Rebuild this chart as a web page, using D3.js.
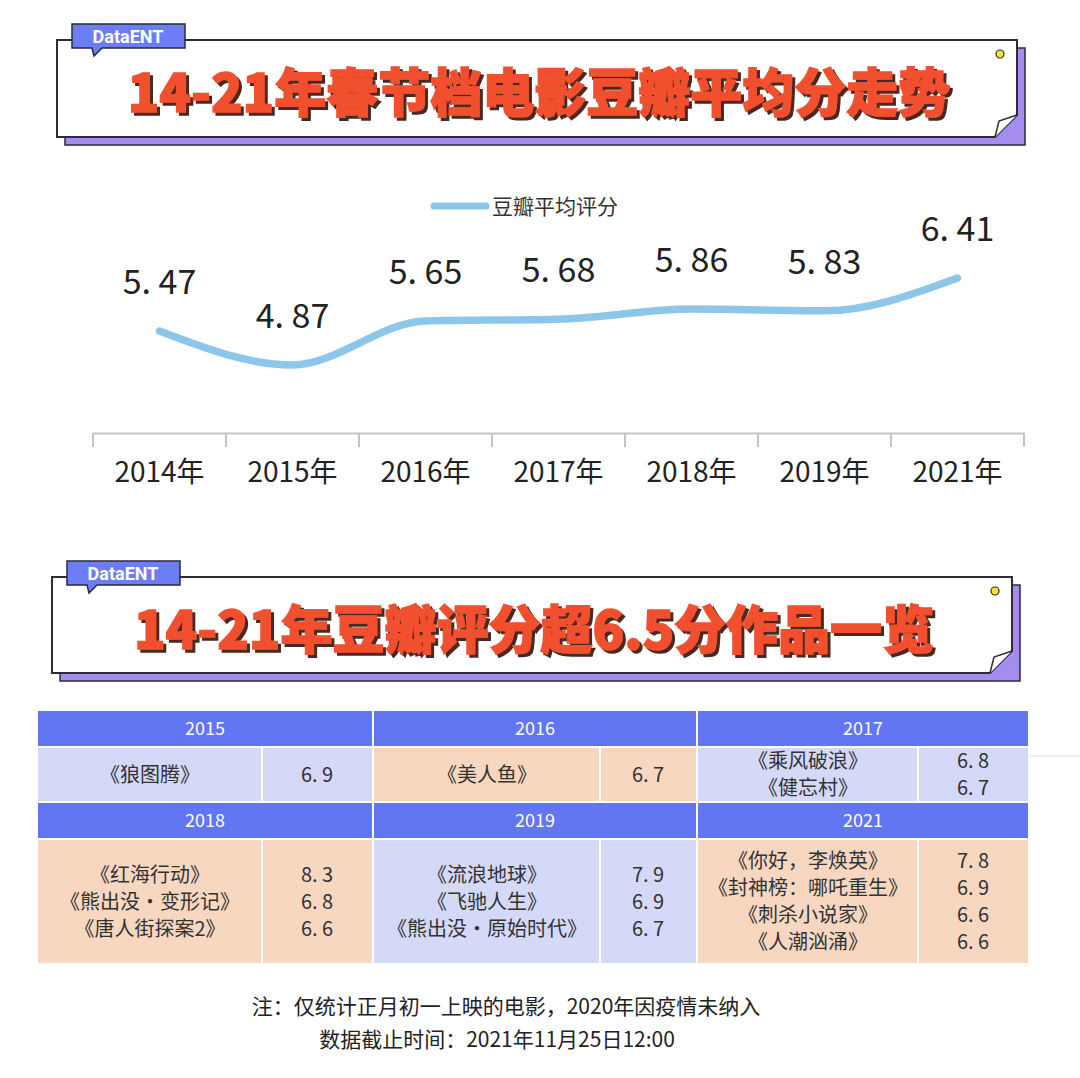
<!DOCTYPE html>
<html>
<head>
<meta charset="utf-8">
<script src="https://cdn.jsdelivr.net/npm/d3@7"></script>
<style>
  html, body { margin: 0; padding: 0; background: #fff; }
  svg { display: block; font-family: "Noto Sans CJK SC", "Noto Sans", sans-serif; }
</style>
</head>
<body>
<svg id="chart" width="1080" height="1078"></svg>
<script>
// line chart data
const years = ['2014年', '2015年', '2016年', '2017年', '2018年', '2019年', '2021年'];
const avgScores = [5.47, 4.87, 5.65, 5.68, 5.86, 5.83, 6.41];
const seriesName = '豆瓣平均评分';

// table data
const tableYears = ['2015', '2016', '2017', '2018', '2019', '2021'];
const tableFilms = [
  ['《狼图腾》'],
  ['《美人鱼》'],
  ['《乘风破浪》', '《健忘村》'],
  ['《红海行动》', '《熊出没・变形记》', '《唐人街探案2》'],
  ['《流浪地球》', '《飞驰人生》', '《熊出没・原始时代》'],
  ['《你好，李焕英》', '《封神榜：哪吒重生》', '《刺杀小说家》', '《人潮汹涌》']
];
const tableScores = [
  [6.9],
  [6.7],
  [6.8, 6.7],
  [8.3, 6.8, 6.6],
  [7.9, 6.9, 6.7],
  [7.8, 6.9, 6.6, 6.6]
];

const titles = ['14-21年春节档电影豆瓣平均分走势', '14-21年豆瓣评分超6.5分作品一览'];
const notes = ['注：仅统计正月初一上映的电影，2020年因疫情未纳入', '数据截止时间：2021年11月25日12:00'];

const svg = d3.select('#chart');

// shadow filter for the banner titles
const defs = svg.append('defs');
defs.append('filter').attr('id', 'tshadow')
  .attr('x', '-5%').attr('y', '-20%').attr('width', '110%').attr('height', '140%')
  .append('feDropShadow')
  .attr('dx', 3).attr('dy', 3).attr('stdDeviation', 0.4)
  .attr('flood-color', '#4a2a22').attr('flood-opacity', 1);

// ---------- title banners ----------
function banner(x, y, w, h, text) {
  const g = svg.append('g');
  // purple shadow
  g.append('rect').attr('x', x + 8).attr('y', y + 8).attr('width', w).attr('height', h)
    .attr('fill', '#a58cf0').attr('stroke', '#2b2b3a').attr('stroke-width', 1.5);
  // white box with folded corner
  const f = 22;
  g.append('path')
    .attr('d', `M${x},${y} H${x + w} V${y + h - f} L${x + w - f},${y + h} H${x} Z`)
    .attr('fill', '#fff').attr('stroke', '#2b2b3a').attr('stroke-width', 2);
  g.append('path')
    .attr('d', `M${x + w},${y + h - f} L${x + w - f + 4},${y + h - f + 6} L${x + w - f},${y + h}`)
    .attr('fill', '#fff').attr('stroke', '#2b2b3a').attr('stroke-width', 1.5);
  // yellow dot
  g.append('circle').attr('cx', x + w - 17).attr('cy', y + 14).attr('r', 4)
    .attr('fill', '#f3e03a').attr('stroke', '#2b2b3a').attr('stroke-width', 1.2);
  // DataENT tag
  const tx = x + 15, ty = y - 16;
  g.append('path')
    .attr('d', `M${tx},${ty} H${tx + 113} V${ty + 24} H${tx + 30} L${tx + 22},${ty + 32} L${tx + 20},${ty + 24} H${tx} Z`)
    .attr('fill', '#6b7ef6').attr('stroke', '#2b2b3a').attr('stroke-width', 1.5);
  g.append('text').attr('x', tx + 56).attr('y', ty + 19).attr('text-anchor', 'middle')
    .attr('fill', '#fff').attr('font-size', 18).attr('font-weight', 700)
    .attr('font-family', 'Roboto, "Noto Sans", sans-serif').text('DataENT');
  // title text with shadow
  g.append('text').attr('x', x + w / 2 + 2).attr('y', y + 72).attr('text-anchor', 'middle')
    .attr('font-size', 52).attr('font-weight', 900).attr('fill', '#f2502f')
    .attr('stroke', '#f2502f').attr('stroke-width', 1.5)
    .attr('filter', 'url(#tshadow)').text(text);
}
banner(57, 40, 960, 97, titles[0]);
banner(52, 577, 960, 96, titles[1]);

// ---------- line chart ----------
const x = d3.scaleBand().domain(years).range([93, 1024]);
const y = d3.scaleLinear().domain([3.7, 6.8]).range([431, 256]);
const cxOf = d => x(d) + x.bandwidth() / 2;

const xAxis = d3.axisBottom(x).tickSize(0).tickPadding(29);
const axG = svg.append('g').attr('transform', 'translate(0,433)').call(xAxis);
axG.select('.domain').attr('stroke', '#c4c4c4').attr('stroke-width', 2);
axG.selectAll('.tick text').attr('font-size', 28).attr('fill', '#222')
  .attr('font-family', '"Noto Sans CJK SC", sans-serif');
// band boundary ticks
const bounds = years.map(d => x(d)).concat([x(years[years.length - 1]) + x.bandwidth()]);
axG.selectAll('.bound').data(bounds).enter().append('line')
  .attr('x1', d => d).attr('x2', d => d).attr('y1', 0).attr('y2', 14)
  .attr('stroke', '#c4c4c4').attr('stroke-width', 2);

const line = d3.line()
  .x((d, i) => cxOf(years[i]))
  .y(d => y(d))
  .curve(d3.curveMonotoneX);
svg.append('path').datum(avgScores).attr('d', line)
  .attr('fill', 'none').attr('stroke', '#8cc7ea').attr('stroke-width', 7.5)
  .attr('stroke-linecap', 'round');

svg.selectAll('.val').data(avgScores).enter().append('text')
  .attr('x', (d, i) => cxOf(years[i]))
  .attr('y', d => y(d) - 37)
  .attr('text-anchor', 'middle').attr('font-size', 34).attr('fill', '#222')
  .text(d => d3.format('.2f')(d).replace('.', '. '));

// legend
svg.append('line').attr('x1', 434).attr('x2', 486).attr('y1', 206).attr('y2', 206)
  .attr('stroke', '#8cc7ea').attr('stroke-width', 7).attr('stroke-linecap', 'round');
svg.append('text').attr('x', 492).attr('y', 214).attr('font-size', 21).attr('fill', '#333')
  .text(seriesName);

// ---------- table ----------
const groupX = [38, 374, 698];
const groupW = [334, 322, 330];
const nameW = [224, 226, 220];
const headY = [711, 803];
const headH = 35;
const bodyY = [748, 840];
const bodyH = [53, 123];
const fills = [['#d4d9f8', '#f8d7c1', '#d4d9f8'], ['#f8d7c1', '#d4d9f8', '#f8d7c1']];
const lineGap = [27, 27];

const tg = svg.append('g');
tableYears.forEach((yr, k) => {
  const r = Math.floor(k / 3), c = k % 3;
  const gx = groupX[c], gw = groupW[c], nw = nameW[c];
  tg.append('rect').attr('x', gx).attr('y', headY[r]).attr('width', gw).attr('height', headH)
    .attr('fill', '#6275f2');
  tg.append('text').attr('x', gx + gw / 2).attr('y', headY[r] + headH / 2 + 6)
    .attr('text-anchor', 'middle').attr('fill', '#fff').attr('font-size', 18).text(yr);
  tg.append('rect').attr('x', gx).attr('y', bodyY[r]).attr('width', nw - 1).attr('height', bodyH[r])
    .attr('fill', fills[r][c]);
  tg.append('rect').attr('x', gx + nw + 1).attr('y', bodyY[r]).attr('width', gw - nw - 1).attr('height', bodyH[r])
    .attr('fill', fills[r][c]);
  const films = tableFilms[k], scores = tableScores[k];
  const mid = bodyY[r] + bodyH[r] / 2;
  const start = mid - (films.length - 1) * lineGap[r] / 2;
  films.forEach((f, i) => {
    tg.append('text').attr('x', gx + nw / 2).attr('y', start + i * lineGap[r] + 7)
      .attr('text-anchor', 'middle').attr('font-size', 20).attr('fill', '#333').text(f);
    tg.append('text').attr('x', gx + nw + (gw - nw) / 2).attr('y', start + i * lineGap[r] + 7)
      .attr('text-anchor', 'middle').attr('font-size', 20).attr('fill', '#333')
      .text(d3.format('.1f')(scores[i]).replace('.', '. '));
  });
});
// faint rule to the right of the table
svg.append('line').attr('x1', 1030).attr('x2', 1080).attr('y1', 756).attr('y2', 756)
  .attr('stroke', '#ddd').attr('stroke-width', 1);

// ---------- notes ----------
svg.append('text').attr('x', 506).attr('y', 1014).attr('text-anchor', 'middle')
  .attr('font-size', 21).attr('fill', '#222').text(notes[0]);
svg.append('text').attr('x', 497).attr('y', 1047).attr('text-anchor', 'middle')
  .attr('font-size', 21).attr('fill', '#222').text(notes[1]);
</script>
</body>
</html>
